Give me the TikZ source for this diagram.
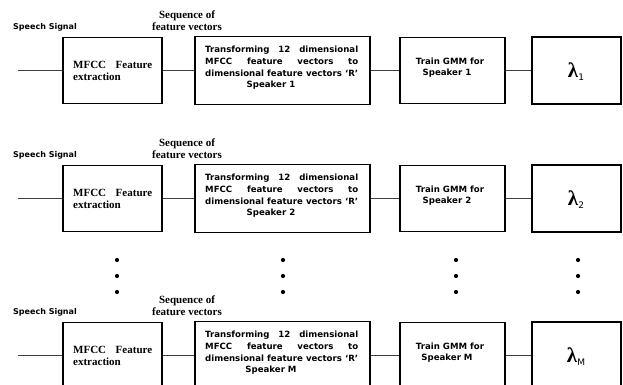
\documentclass[tikz,border=0pt]{standalone}
\usepackage{fontspec}
\setmainfont{Liberation Serif}
\newfontfamily\dvs{DejaVu Sans}
\begin{document}
\begin{tikzpicture}[x=1pt,y=-1pt,
  box/.style={draw, line width=1.1pt, inner sep=0pt},
  lambox/.style={draw, line width=1.5pt, inner sep=0pt},
  conn/.style={draw=black!75, line width=0.9pt},
  sigfont/.style={font=\dvs\bfseries\fontsize{8}{9}\selectfont, inner sep=0pt},
  sanslbl/.style={font=\dvs\bfseries\fontsize{8.6}{9}\selectfont, inner sep=0pt},
  seriflbl/.style={font=\bfseries\fontsize{11}{12}\selectfont, inner sep=0pt},
  dotnode/.style={circle, fill=black, inner sep=0pt, minimum size=4.2pt},
  lamlbl/.style={inner sep=0pt}]
\clip (0,0) rectangle (623,385);
\fill[white] (0,0) rectangle (623,385);
\foreach \r/\T/\s in {1/38/1, 2/166/2, 3/323/M} {
  % boxes
  \node[box, minimum width=99pt, minimum height=66pt] (mfcc-\r) at (112.5,\T+32.5) {};
  \node[box, minimum width=175pt, minimum height=68pt] (tr-\r) at (282.5,\T+32.5) {};
  \node[box, minimum width=105pt, minimum height=66pt] (gmm-\r) at (452.5,\T+32.5) {};
  \node[lambox, minimum width=89pt, minimum height=67pt] (lam-\r) at (576.5,\T+32.5) {};
  \coordinate (in-\r) at (18,\T+32.5);
  % connectors
  \draw[conn] (in-\r) -- (mfcc-\r);
  \draw[conn] (mfcc-\r) -- (tr-\r);
  \draw[conn] (tr-\r) -- (gmm-\r);
  \draw[conn] (gmm-\r) -- (lam-\r);
  % labels above
  \node[sigfont, anchor=west] (sig-\r) at (13,\T-11) {Speech Signal};
  \node[seriflbl] (seq-\r) at (187,\T-22) {Sequence of};
  \node[seriflbl] (fv-\r) at (187,\T-11) {feature vectors};
  % MFCC text
  \node[seriflbl, anchor=west] (mt1-\r) at (73,\T+27) {\makebox[79pt][s]{MFCC Feature}};
  \node[seriflbl, anchor=west] (mt2-\r) at (73,\T+39) {extraction};
  % transform text
  \node[sanslbl, anchor=west] (tt1-\r) at (205,\T+12) {\makebox[153pt][s]{Transforming 12 dimensional}};
  \node[sanslbl, anchor=west] (tt2-\r) at (205,\T+23.7) {\makebox[153pt][s]{MFCC feature vectors to}};
  \node[sanslbl, anchor=west] (tt3-\r) at (205,\T+35.4) {\makebox[153pt][s]{dimensional feature vectors ‘R’}};
  \node[sanslbl] (tt4-\r) at (271,\T+47) {Speaker \s};
  % GMM text
  \node[sanslbl] (gt1-\r) at (450,\T+23.5) {Train GMM for};
  \node[sanslbl] (gt2-\r) at (447,\T+35.5) {Speaker \s};
  % lambda
  \node[lamlbl] (lt-\r) at (576,\T+34) {{\bfseries\fontsize{21}{21}\selectfont λ}{\dvs\fontsize{9}{9}\selectfont\raisebox{-3pt}{\s}}};
}
% vertical ellipses
\foreach \x [count=\i] in {117,283,456,578} {
  \node[dotnode] (da-\i) at (\x,260) {};
  \node[dotnode] (db-\i) at (\x,276) {};
  \node[dotnode] (dc-\i) at (\x,292) {};
}
\end{tikzpicture}
\end{document}
